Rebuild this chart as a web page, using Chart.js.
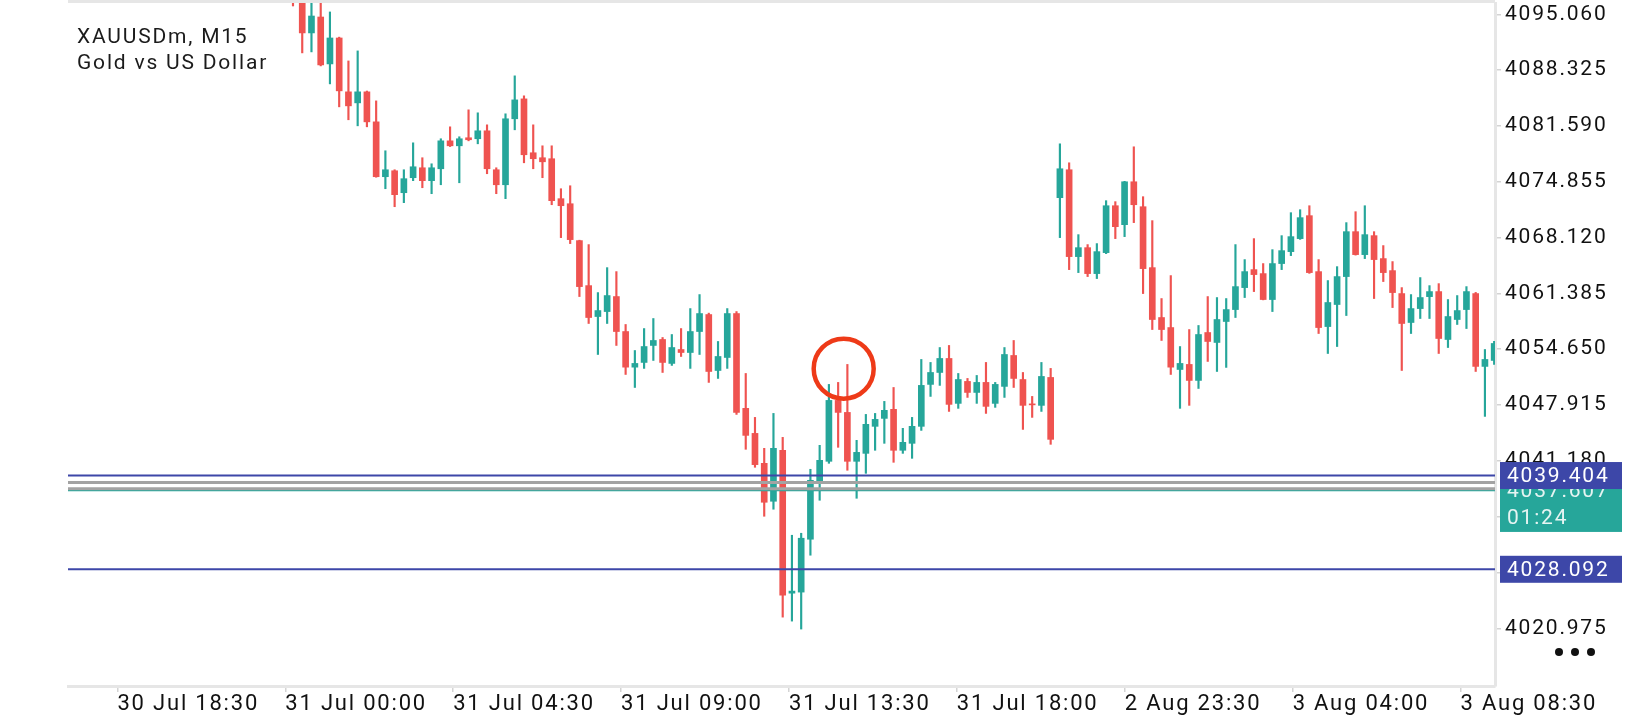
<!DOCTYPE html>
<html>
<head>
<meta charset="utf-8">
<title>XAUUSDm, M15</title>
<script src="https://cdn.jsdelivr.net/npm/chart.js@4.4.1/dist/chart.umd.min.js"></script>
<style>
    html, body { margin: 0; padding: 0; background: #fff; }
    #wrap { width: 1640px; height: 720px; }
</style>
</head>
<body>
<div id="wrap"><canvas id="chart" width="1640" height="720"></canvas></div>
<script>
// candles, index 0 = first bar after 31 Jul 00:00
var opens = [
    4099.20, 4097.40, 4092.81, 4094.73, 4089.07, 4092.20, 4085.70, 4084.37, 4085.70, 4082.08,
    4075.46, 4076.18, 4073.53, 4075.34, 4076.54, 4074.98, 4076.42, 4079.79, 4079.19, 4080.16,
    4080.04, 4081.00, 4076.30, 4074.49, 4082.45, 4084.85, 4078.35, 4077.75, 4077.63, 4072.81,
    4072.20, 4067.75, 4062.32, 4058.59, 4059.19, 4061.00, 4056.78, 4052.48, 4053.05, 4055.10,
    4055.82, 4052.93, 4054.61, 4054.25, 4056.78, 4058.83, 4052.08, 4053.65, 4058.95, 4047.51,
    4044.49, 4040.88, 4036.30, 4042.45, 4025.21, 4025.34, 4031.72, 4038.71, 4041.12, 4048.47,
    4047.02, 4041.12, 4042.08, 4045.34, 4046.30, 4047.39, 4042.45, 4043.29, 4045.34, 4050.40,
    4051.84, 4053.53, 4048.11, 4050.76, 4049.43, 4050.64, 4048.11, 4050.16, 4053.89, 4050.99,
    4048.05, 4047.87, 4051.24, 4072.93, 4076.30, 4065.82, 4066.90, 4063.77, 4066.30, 4071.96,
    4069.67, 4074.85, 4071.84, 4064.49, 4058.47, 4057.26, 4052.20, 4052.81, 4050.88, 4056.66,
    4055.46, 4057.99, 4059.43, 4062.08, 4064.25, 4063.77, 4060.64, 4064.98, 4066.42, 4067.99,
    4070.76, 4064.01, 4057.38, 4060.04, 4063.41, 4068.83, 4066.06, 4068.35, 4065.58, 4064.13,
    4061.36, 4057.87, 4059.55, 4060.99, 4061.60, 4055.82, 4058.23, 4059.43, 4061.36, 4052.57,
    4053.29
];
var highs = [
    4100.10, 4098.00, 4096.60, 4096.80, 4095.34, 4092.30, 4089.43, 4090.64, 4085.80, 4084.61,
    4078.59, 4076.30, 4076.30, 4079.55, 4077.75, 4077.02, 4080.04, 4081.48, 4080.28, 4083.53,
    4083.17, 4081.72, 4076.54, 4083.05, 4087.63, 4085.22, 4081.72, 4079.19, 4079.19, 4074.01,
    4074.37, 4067.80, 4067.27, 4061.48, 4064.49, 4064.01, 4057.63, 4054.49, 4057.14, 4058.35,
    4056.06, 4056.42, 4057.14, 4059.55, 4061.24, 4059.00, 4055.58, 4059.55, 4059.19, 4051.72,
    4046.42, 4042.69, 4046.90, 4044.01, 4032.20, 4032.44, 4040.16, 4043.05, 4050.40, 4050.64,
    4052.81, 4043.65, 4046.78, 4046.90, 4048.35, 4050.03, 4045.10, 4046.42, 4053.41, 4053.05,
    4054.85, 4055.10, 4051.72, 4051.12, 4051.48, 4053.05, 4050.64, 4054.85, 4055.70, 4051.84,
    4048.95, 4053.05, 4052.33, 4079.43, 4077.14, 4068.47, 4067.27, 4067.39, 4072.57, 4072.45,
    4074.90, 4079.07, 4073.05, 4070.16, 4060.76, 4063.53, 4054.97, 4057.02, 4057.51, 4061.00,
    4060.88, 4060.76, 4067.27, 4065.46, 4067.99, 4064.98, 4066.66, 4068.35, 4071.12, 4071.48,
    4071.96, 4065.46, 4062.93, 4064.61, 4069.92, 4071.24, 4071.96, 4068.83, 4067.15, 4065.22,
    4062.08, 4061.24, 4063.29, 4062.32, 4062.56, 4060.64, 4061.12, 4062.20, 4061.50, 4054.61,
    4055.60
];
var lows = [
    4096.06, 4090.40, 4090.52, 4088.83, 4086.66, 4083.89, 4082.33, 4081.60, 4081.48, 4075.40,
    4074.01, 4071.84, 4072.33, 4074.98, 4074.13, 4073.41, 4074.49, 4079.10, 4074.73, 4079.79,
    4079.43, 4075.82, 4073.41, 4072.81, 4081.12, 4077.14, 4076.42, 4075.34, 4072.08, 4068.11,
    4067.39, 4061.00, 4057.75, 4054.01, 4057.75, 4055.10, 4051.60, 4050.03, 4052.33, 4053.29,
    4051.84, 4052.69, 4053.77, 4052.33, 4054.01, 4050.64, 4051.12, 4052.33, 4046.78, 4042.57,
    4040.40, 4034.49, 4035.34, 4022.32, 4021.84, 4020.88, 4029.79, 4036.42, 4040.88, 4042.81,
    4040.04, 4036.66, 4039.67, 4042.45, 4043.29, 4041.00, 4042.08, 4041.48, 4044.85, 4048.95,
    4050.28, 4047.14, 4047.51, 4048.83, 4048.11, 4046.90, 4047.63, 4048.83, 4050.03, 4044.97,
    4046.42, 4047.14, 4043.17, 4068.11, 4064.25, 4063.89, 4063.41, 4063.17, 4066.18, 4067.99,
    4068.23, 4069.92, 4061.36, 4057.02, 4055.70, 4051.60, 4047.51, 4047.87, 4049.91, 4053.17,
    4051.96, 4052.45, 4058.47, 4060.88, 4061.60, 4060.60, 4059.19, 4064.25, 4065.94, 4067.90,
    4063.80, 4056.54, 4054.13, 4054.97, 4058.71, 4066.00, 4065.58, 4060.76, 4062.81, 4059.67,
    4052.08, 4056.54, 4058.35, 4058.35, 4054.13, 4054.85, 4057.63, 4057.14, 4051.96, 4046.54,
    4052.80
];
var closes = [
    4097.00, 4092.81, 4094.85, 4088.95, 4092.20, 4085.82, 4084.01, 4085.70, 4082.08, 4075.46,
    4076.30, 4073.29, 4075.22, 4076.66, 4074.98, 4076.54, 4079.79, 4079.19, 4080.04, 4079.92,
    4081.00, 4076.42, 4074.49, 4082.45, 4084.73, 4078.11, 4077.63, 4077.26, 4072.57, 4071.96,
    4067.87, 4062.20, 4058.47, 4059.31, 4061.12, 4056.78, 4052.48, 4052.93, 4054.97, 4055.70,
    4053.05, 4054.85, 4054.25, 4056.78, 4058.95, 4051.96, 4053.77, 4058.95, 4047.02, 4044.25,
    4040.72, 4036.18, 4042.69, 4024.97, 4025.46, 4031.84, 4038.83, 4041.24, 4048.47, 4047.02,
    4041.12, 4042.20, 4045.58, 4046.18, 4047.27, 4042.45, 4043.41, 4045.34, 4050.28, 4051.84,
    4053.53, 4047.99, 4050.99, 4049.43, 4050.64, 4047.75, 4050.40, 4054.01, 4051.12, 4047.87,
    4047.93, 4051.36, 4043.77, 4076.42, 4065.82, 4066.90, 4063.77, 4066.42, 4071.96, 4069.43,
    4074.85, 4072.08, 4064.37, 4058.23, 4057.02, 4052.48, 4052.93, 4050.88, 4056.42, 4055.58,
    4058.23, 4059.43, 4062.20, 4064.01, 4063.65, 4060.64, 4064.98, 4066.54, 4068.23, 4070.52,
    4063.89, 4057.26, 4060.28, 4063.41, 4068.83, 4066.06, 4068.47, 4065.46, 4063.89, 4061.48,
    4057.75, 4059.55, 4060.88, 4061.60, 4055.94, 4058.59, 4059.31, 4061.60, 4052.57, 4053.41,
    4055.34
];

// time axis labels (position in bars where each label starts)
var tickIndex = [-19, -0.83, 17.34, 35.51, 53.68, 71.85, 90.02, 108.19, 126.36];
var tickText = ['30 Jul 18:30', '31 Jul 00:00', '31 Jul 04:30', '31 Jul 09:00', '31 Jul 13:30',
    '31 Jul 18:00', '2 Aug 23:30', '3 Aug 04:00', '3 Aug 08:30'];
var priceTicks = [4020.975, 4027.710, 4034.445, 4041.180, 4047.915, 4054.650,
    4061.385, 4068.120, 4074.855, 4081.590, 4088.325, 4095.060];

// horizontal levels
var levelBlue = [4039.404, 4028.092];
var levelGrey = [4038.55, 4037.80];
var bidPrice = 4037.607;
var countdown = '01:24';

// hand drawn mark
var markIndex = [59.6];
var markPrice = [4052.3];

var UP = '#26a69a', DOWN = '#ef5350', BLUE = '#3d47a8';
var xMin = -24.35, xMax = 130.09;

Chart.defaults.font.family = 'Roboto';

var bodies = [], wicks = [], colors = [];
for (var i = 0; i < opens.length; i++) {
    bodies.push({x: i, y: [opens[i], closes[i]]});
    wicks.push({x: i, y: [lows[i], highs[i]]});
    colors.push(closes[i] >= opens[i] ? UP : DOWN);
}

function levelLine(p, color, width) {
    return {
        type: 'line',
        data: [{x: xMin, y: p}, {x: xMax, y: p}],
        borderColor: color,
        borderWidth: width,
        pointRadius: 0,
        order: 1,
        clip: 0
    };
}

var datasets = [{
    type: 'line',
    data: markIndex.map(function (v, k) { return {x: v, y: markPrice[k]}; }),
    showLine: false,
    pointRadius: 30,
    pointBorderWidth: 4.5,
    pointBorderColor: '#ee3a18',
    pointBackgroundColor: 'rgba(0,0,0,0)',
    order: 0,
    clip: false
}];
levelGrey.forEach(function (p) { datasets.push(levelLine(p, '#a3a3a3', 3)); });
datasets.push(levelLine(bidPrice, UP, 1.5));
levelBlue.forEach(function (p) { datasets.push(levelLine(p, BLUE, 2)); });
datasets.push({
    type: 'bar', data: bodies, backgroundColor: colors,
    barThickness: 6, grouped: false, minBarLength: 1, order: 2, clip: 0
});
datasets.push({
    type: 'bar', data: wicks, backgroundColor: colors,
    barThickness: 1.5, grouped: false, order: 3, clip: 0
});

var overlay = {
    id: 'overlay',
    beforeDraw: function (chart) {
        chart.ctx.letterSpacing = '1.8px';
    },
    afterDraw: function (chart) {
        var ctx = chart.ctx, ys = chart.scales.y, area = chart.chartArea;
        var bx = area.right + 5, bw = 122;
        ctx.save();
        // top frame line
        ctx.strokeStyle = '#e6e6e6';
        ctx.lineWidth = 3;
        ctx.beginPath();
        ctx.moveTo(area.left, 1.5);
        ctx.lineTo(area.right, 1.5);
        ctx.stroke();

        ctx.font = '21px Roboto';
        ctx.fillStyle = '#1b1b1b';
        ctx.textBaseline = 'alphabetic';
        ctx.fillText('XAUUSDm, M15', 77, 43);
        ctx.fillText('Gold vs US Dollar', 77, 69);

        // bid + countdown
        var py = ys.getPixelForValue(bidPrice);
        ctx.fillStyle = UP;
        ctx.fillRect(bx, py - 13.5, bw, 55);
        ctx.fillStyle = '#e6f4f2';
        ctx.textBaseline = 'middle';
        ctx.fillText(bidPrice.toFixed(3), bx + 7, py + 1);
        ctx.fillText(countdown, bx + 7, py + 28);

        levelBlue.forEach(function (p) {
            var ly = ys.getPixelForValue(p);
            ctx.fillStyle = BLUE;
            ctx.fillRect(bx, ly - 13.5, bw, 27);
            ctx.fillStyle = '#ffffff';
            ctx.fillText(p.toFixed(3), bx + 7, ly + 1);
        });

        // menu dots
        ctx.fillStyle = '#111';
        for (var k = 0; k < 3; k++) {
            ctx.beginPath();
            ctx.arc(1559 + k * 16, 652, 4, 0, Math.PI * 2);
            ctx.fill();
        }
        ctx.restore();
    }
};

new Chart(document.getElementById('chart').getContext('2d'), {
    type: 'bar',
    data: {datasets: datasets},
    plugins: [overlay],
    options: {
        responsive: false,
        animation: false,
        layout: {autoPadding: false, padding: {left: 68, top: 3, right: 0, bottom: 0}},
        plugins: {legend: {display: false}, tooltip: {enabled: false}},
        scales: {
            x: {
                type: 'linear', position: 'bottom', bounds: 'data', offset: false,
                min: xMin, max: xMax,
                afterBuildTicks: function (s) {
                    s.ticks = tickIndex.map(function (v) { return {value: v}; });
                },
                afterFit: function (s) {
                    s.height = 34;
                    s.paddingLeft = 0; s.paddingRight = 0;
                },
                ticks: {
                    autoSkip: false, maxRotation: 0, align: 'start', padding: 1,
                    color: '#111', font: {size: 22, lineHeight: 1},
                    callback: function (v, idx) { return tickText[idx]; }
                },
                grid: {offset: false, drawOnChartArea: false, tickLength: 6, color: '#d4d4d4', lineWidth: 1.5},
                border: {color: '#e6e6e6', width: 3}
            },
            y: {
                position: 'right', bounds: 'data',
                min: 4014.01, max: 4096.42,
                afterBuildTicks: function (s) {
                    s.ticks = priceTicks.map(function (v) { return {value: v}; });
                },
                afterFit: function (s) {
                    s.width = 145;
                    s.paddingTop = 0; s.paddingBottom = 0;
                },
                ticks: {
                    padding: 4, color: '#111', font: {size: 21},
                    callback: function (v) { return v.toFixed(3); }
                },
                grid: {drawOnChartArea: false, tickLength: 6, color: '#d4d4d4', lineWidth: 1.5},
                border: {color: '#e6e6e6', width: 3}
            }
        }
    }
});
</script>
</body>
</html>
